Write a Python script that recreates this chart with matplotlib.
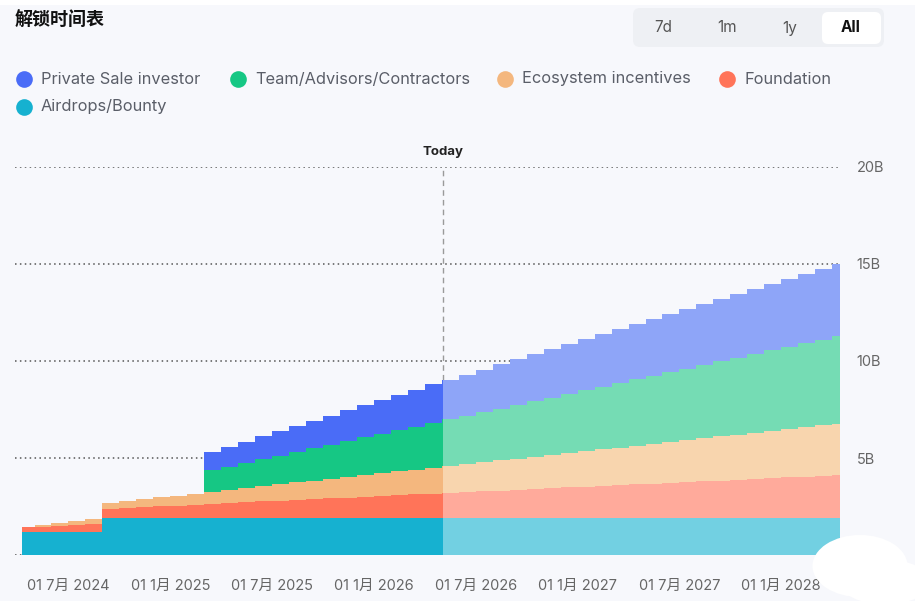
import numpy as np
import matplotlib
matplotlib.use("Agg")
import matplotlib.pyplot as plt
from matplotlib.patches import FancyBboxPatch, Ellipse, Rectangle

plt.rcParams['font.family'] = ['Inter', 'Noto Sans CJK SC', 'DejaVu Sans']

# months counted from Jan 2024 (6 = 01 Jul 2024), one unlock step per month
months = list(range(3, 52))
data_start = 3.26
data_end = 51.46
today = 28.07

# cumulative unlocked tokens per month, in billions
airdrops = [1.16] * 5 + [1.90] * 44
foundation = [0.26, 0.30, 0.35, 0.39, 0.44, 0.48, 0.52, 0.57, 0.61, 0.65,
              0.70, 0.74, 0.78, 0.82, 0.86, 0.90, 0.94, 0.98, 1.02, 1.06,
              1.10, 1.14, 1.18, 1.22, 1.26, 1.30, 1.34, 1.38, 1.42, 1.46,
              1.50, 1.54, 1.58, 1.62, 1.66, 1.70, 1.74, 1.78, 1.82, 1.86,
              1.90, 1.94, 1.98, 2.02, 2.06, 2.10, 2.14, 2.18, 2.22]
ecosystem = [0.02, 0.07, 0.13, 0.18, 0.24, 0.29, 0.35, 0.40, 0.46, 0.51,
             0.57, 0.62, 0.68, 0.73, 0.79, 0.84, 0.90, 0.95, 1.01, 1.06,
             1.12, 1.17, 1.23, 1.28, 1.34, 1.39, 1.45, 1.50, 1.56, 1.61,
             1.67, 1.72, 1.78, 1.83, 1.89, 1.94, 2.00, 2.05, 2.11, 2.16,
             2.22, 2.27, 2.33, 2.38, 2.44, 2.49, 2.55, 2.60, 2.64]
team = [0.0] * 11 + [1.11, 1.20, 1.29, 1.39, 1.48, 1.57, 1.66, 1.75, 1.85,
                     1.94, 2.03, 2.12, 2.21, 2.31, 2.40, 2.49, 2.58, 2.67,
                     2.77, 2.86, 2.95, 3.04, 3.13, 3.23, 3.32, 3.41, 3.50,
                     3.59, 3.69, 3.78, 3.87, 3.96, 4.05, 4.15, 4.24, 4.33,
                     4.42, 4.51]
private_sale = [0.0] * 11 + [0.94, 1.02, 1.10, 1.18, 1.26, 1.34, 1.42, 1.50,
                             1.58, 1.66, 1.74, 1.82, 1.90, 1.98, 2.05, 2.12,
                             2.20, 2.27, 2.34, 2.42, 2.49, 2.56, 2.63, 2.71,
                             2.78, 2.85, 2.93, 3.00, 3.07, 3.15, 3.22, 3.29,
                             3.36, 3.44, 3.51, 3.58, 3.66, 3.73]

series = [
    ("Airdrops/Bounty", airdrops, "#16b1d0", "#72d0e2"),
    ("Foundation", foundation, "#ff7459", "#ffaa9b"),
    ("Ecosystem incentives", ecosystem, "#f4b77e", "#f8d5ae"),
    ("Team/Advisors/Contractors", team, "#16c784", "#75dcb4"),
    ("Private Sale investor", private_sale, "#4a6cf7", "#8ea5f8"),
]
legend_order = [4, 3, 2, 1, 0]

tick_pos = [6, 12, 18, 24, 30, 36, 42, 48]
tick_labels = ["01 7月 2024", "01 1月 2025", "01 7月 2025", "01 1月 2026",
               "01 7月 2026", "01 1月 2027", "01 7月 2027", "01 1月 2028"]
y_ticks = [5, 10, 15, 20]
y_labels = ["5B", "10B", "15B", "20B"]

bg = "#f7f8fc"
W, H = 923, 601
fig = plt.figure(figsize=(W / 100, H / 100), dpi=100, facecolor=bg)

ax = fig.add_axes([15 / W, (H - 555) / H, 825 / W, 388 / H])
ax.set_facecolor(bg)

edges = np.array([data_start] + months[1:] + [data_end], dtype=float)
dark_x = np.minimum(edges, today)
light_x = np.maximum(edges, today)

bottom = np.zeros(len(months))
for name, vals, dark, light in series:
    top = bottom + np.array(vals)
    yb = np.append(bottom, bottom[-1])
    yt = np.append(top, top[-1])
    ax.fill_between(dark_x, yb, yt, step='post', color=dark, lw=0, zorder=3)
    ax.fill_between(light_x, yb, yt, step='post', color=light, lw=0, zorder=3)
    bottom = top

for yv in [0] + y_ticks:
    ax.axhline(yv, color="#555555", lw=1.1, ls=(0, (1, 2.2)), zorder=1)

ax.axvline(today, color="#9a9a9a", lw=1, ls=(0, (4, 3)), zorder=2)
ax.text(today, 20.45, "Today", ha='center', va='bottom', fontsize=9.5,
        fontweight='bold', color="#222222")

ax.set_xlim(2.85, 51.46)
ax.set_ylim(0, 20)
ax.set_xticks(tick_pos)
ax.set_xticklabels(tick_labels, fontsize=10.5, color="#666666")
ax.set_yticks(y_ticks)
ax.set_yticklabels(y_labels, fontsize=10.5, color="#666666")
ax.yaxis.tick_right()
ax.tick_params(axis='x', length=0, pad=17)
ax.tick_params(axis='y', length=0, pad=12)
for s in ax.spines.values():
    s.set_visible(False)

# overlay in pixel coords for the header, buttons and legend
ov = fig.add_axes([0, 0, 1, 1], zorder=5)
ov.set_xlim(0, W)
ov.set_ylim(H, 0)
ov.axis('off')
ov.patch.set_alpha(0)

# white page edges around the card
ov.add_patch(Rectangle((0, 0), W, 5, fc="white", ec="none"))
ov.add_patch(Rectangle((915, 0), 8, H, fc="white", ec="none"))

ov.text(15, 21, "解锁时间表", fontsize=13, fontweight='bold',
        color="#111111", va='center', ha='left')

ov.add_patch(FancyBboxPatch((633, 8), 251, 39, boxstyle="round,pad=0,rounding_size=7",
                            fc="#eef0f4", ec="none"))
ov.add_patch(FancyBboxPatch((822, 12), 59, 32, boxstyle="round,pad=0,rounding_size=6",
                            fc="white", ec="none"))
for lab, xx, bold in [("7d", 663, False), ("1m", 727, False),
                      ("1y", 790, False), ("All", 851, True)]:
    ov.text(xx, 28, lab, fontsize=11, ha='center', va='center',
            color="#111111" if bold else "#555555",
            fontweight='bold' if bold else 'normal')

leg_pos = [(24, 79), (238, 79), (505, 79), (727, 79), (24, 107)]
for (px, py), idx in zip(leg_pos, legend_order):
    name, vals, dark, light = series[idx]
    ov.plot(px, py, 'o', ms=12, color=dark, mec='none')
    ov.text(px + 17, py, name, fontsize=11.8, color="#5a5e68",
            va='center', ha='left')

# white smudge in the lower right corner
ov.add_patch(Ellipse((860, 566), 95, 62, fc="white", ec="none"))
ov.add_patch(Ellipse((885, 582), 90, 45, fc="white", ec="none"))

fig.savefig("out.png", dpi=100, facecolor=bg)
